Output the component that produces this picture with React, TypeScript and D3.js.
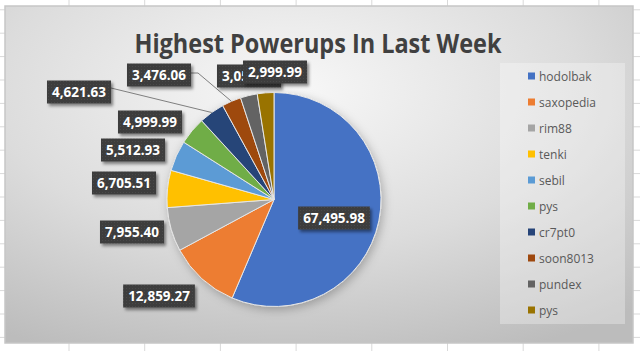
import React, { useMemo } from "react";
import * as d3 from "d3";

const names = ["hodolbak", "saxopedia", "rim88", "tenki", "sebil", "pys", "cr7pt0", "soon8013", "pundex", "pys"];
const values = [67495.98, 12859.27, 7955.4, 6705.51, 5512.93, 4999.99, 4621.63, 3476.06, 3050.0, 2999.99];
const colors = ["#4472C4", "#ED7D31", "#A5A5A5", "#FFC000", "#5B9BD5", "#70AD47", "#264478", "#9E480E", "#636363", "#997300"];
// label box centres (layout of Excel "best fit" labels)
const labelPos: [number, number][] = [
  [334, 218], [159, 296], [132, 232], [124, 183], [133, 150],
  [150, 122], [79, 92], [159, 75], [249, 76], [275, 72],
];
const leaderIdx = [6, 7];

const W = 640, H = 351;
const cx = 274, cy = 199.5, R = 107;
const fmt = d3.format(",.2f");

function measure(txt: string, font: string) {
  const c = document.createElement("canvas");
  const ctx = c.getContext("2d")!;
  ctx.font = font;
  return ctx.measureText(txt).width;
}

export default function App() {
  const pie = useMemo(() => d3.pie<number>().sort(null).value((d) => d)(values), []);
  const arc = d3.arc<d3.PieArcDatum<number>>().innerRadius(0).outerRadius(R);
  const labelFont = "bold 13.5px 'Open Sans'";

  const colX = d3.range(-1, 9).map((i) => 69 + i * 75.7);
  const rowY = d3.range(-3, 12).map((i) => 80 + i * 23.4);

  return (
    <svg width={W} height={H} style={{ position: "absolute", left: 0, top: 0 }} fontFamily="'Open Sans', sans-serif">
      <defs>
        <radialGradient id="bg" cx="45%" cy="25%" r="85%">
          <stop offset="0%" stopColor="#f8f8f8" />
          <stop offset="55%" stopColor="#dcdcdc" />
          <stop offset="100%" stopColor="#bcbcbc" />
        </radialGradient>
        <filter id="lblShadow" x="-20%" y="-30%" width="150%" height="180%">
          <feDropShadow dx="2" dy="2.5" stdDeviation="1.5" floodColor="#000" floodOpacity="0.45" />
        </filter>
        <filter id="pieShadow" x="-30%" y="-30%" width="160%" height="160%">
          <feDropShadow dx="2" dy="3" stdDeviation="5" floodColor="#000" floodOpacity="0.25" />
        </filter>
        <pattern id="dots" width="3" height="3" patternUnits="userSpaceOnUse">
          <rect width="3" height="3" fill="#3d3d3d" />
          <rect width="1" height="1" fill="#4a4a4a" />
        </pattern>
      </defs>
      <rect width={W} height={H} fill="#fff" />
      {colX.map((x, i) => (
        <line key={"c" + i} x1={x} x2={x} y1={0} y2={H} stroke="#d9d9d9" />
      ))}
      {rowY.map((y, i) => (
        <line key={"r" + i} x1={0} x2={W} y1={y} y2={y} stroke="#d9d9d9" />
      ))}
      <rect x={5} y={6} width={628} height={337} fill="url(#bg)" stroke="#c6c6c6" strokeWidth={1.5} />
      <text x={318} y={53} textAnchor="middle" fontSize={27} fontWeight="bold" fill="#404040" textLength={367} lengthAdjust="spacingAndGlyphs">
        Highest Powerups In Last Week
      </text>

      <g transform={`translate(${cx},${cy})`} filter="url(#pieShadow)">
        {pie.map((d, i) => (
          <path key={i} d={arc(d)!} fill={colors[i]} stroke="#e6e6e6" strokeWidth={1} />
        ))}
      </g>

      {leaderIdx.map((i) => {
        const d = pie[i];
        const a = (d.startAngle + d.endAngle) / 2;
        const px = cx + R * Math.sin(a);
        const py = cy - R * Math.cos(a);
        const txt = fmt(values[i]);
        const w = measure(txt, labelFont) + 10;
        const [lx, ly] = labelPos[i];
        const bx = lx + w / 2;
        const pts: [number, number][] = i === 7 ? [[bx, ly - 2], [bx + 7, ly - 2], [px, py]] : [[bx, ly - 4], [px, py]];
        return <path key={"ld" + i} d={d3.line()(pts)!} fill="none" stroke="#7f7f7f" strokeWidth={1} />;
      })}

      {values.map((v, i) => {
        const txt = fmt(v);
        const w = measure(txt, labelFont) + 10;
        const h = 23;
        const [lx, ly] = labelPos[i];
        return (
          <g key={"lb" + i}>
            <rect x={lx - w / 2} y={ly - h / 2} width={w} height={h} fill="url(#dots)" filter="url(#lblShadow)" />
            <text x={lx} y={ly + 5} textAnchor="middle" fill="#fff" fontSize={13.5} fontWeight="bold">
              {txt}
            </text>
          </g>
        );
      })}

      <rect x={500} y={63} width={125} height={261} fill="#ffffff" fillOpacity={0.3} />
      {names.map((n, i) => (
        <g key={"lg" + i} transform={`translate(528,${76 + i * 26})`}>
          <rect x={0} y={-3.5} width={7} height={7} fill={colors[i]} />
          <text x={11} y={4.5} fontSize={12} fill="#595959">
            {n}
          </text>
        </g>
      ))}
    </svg>
  );
}
